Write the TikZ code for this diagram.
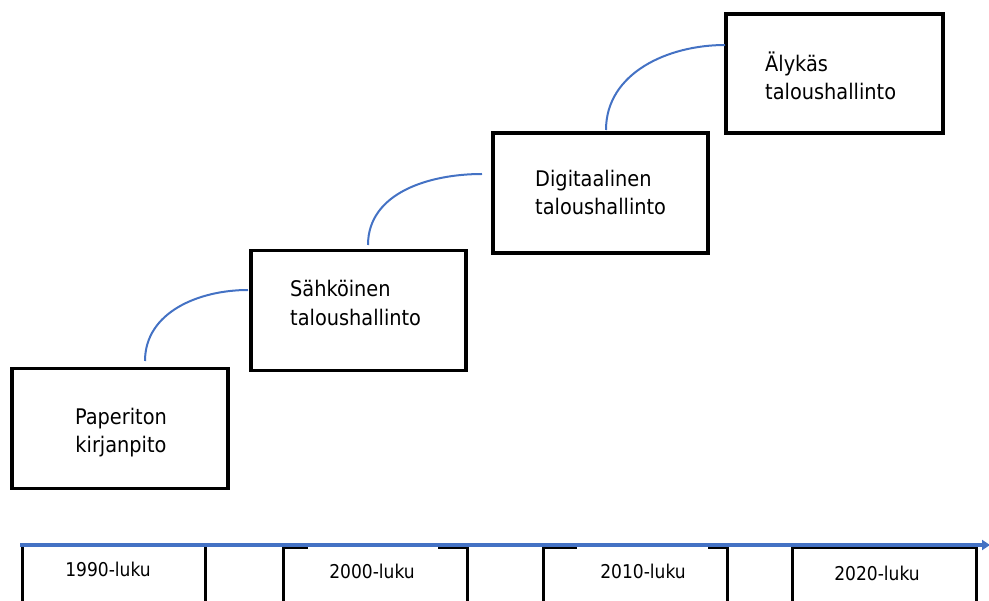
\documentclass[tikz,border=0pt]{standalone}
\usepackage{fontspec}
\setmainfont{DejaVu Sans Condensed}
\usetikzlibrary{arrows.meta}
\definecolor{lineblue}{HTML}{4472C4}
\begin{document}
\begin{tikzpicture}[x=1pt,y=-1pt,
  stagebox/.style={draw=black,line width=3.5pt,fill=white,inner sep=0pt},
  stagetext/.style={anchor=base west,inner sep=0pt,font=\fontsize{21.5}{25}\selectfont},
  stagetextc/.style={anchor=base,inner sep=0pt,font=\fontsize{21.5}{25}\selectfont},
  link/.style={draw=lineblue,line width=2pt},
  era/.style={draw=black,line width=3pt},
  eratext/.style={anchor=base,inner sep=0pt,font=\fontsize{19}{22}\selectfont}]
\useasboundingbox (0,0) rectangle (989,601);

% stage boxes
\node[stagebox,minimum width=216pt,minimum height=120pt] (b1) at (120,428.5) {};
\node[stagebox,minimum width=215pt,minimum height=120pt] (b2) at (358.5,310.5) {};
\node[stagebox,minimum width=215pt,minimum height=120pt] (b3) at (600.5,193) {};
\node[stagebox,minimum width=217pt,minimum height=119pt] (b4) at (834.5,73.5) {};

% stage labels
\node[stagetextc] (t1a) at (121,425) {Paperiton};
\node[stagetextc] (t1b) at (121,453) {kirjanpito};
\node[stagetext] (t2a) at (290,297) {Sähköinen};
\node[stagetext] (t2b) at (290,326) {taloushallinto};
\node[stagetext] (t3a) at (535,187) {Digitaalinen};
\node[stagetext] (t3b) at (535,215) {taloushallinto};
\node[stagetext] (t4a) at (765,72) {Älykäs};
\node[stagetext] (t4b) at (765,100) {taloushallinto};

% curved links between stages
\coordinate (s1) at (145,361);
\coordinate (e1) at (248,290);
\coordinate (s2) at (368,245);
\coordinate (e2) at (482,174);
\coordinate (s3) at (606,130);
\coordinate (e3) at (725,45);
\draw[link] (s1) to[out=90,in=180] (e1);
\draw[link] (s2) to[out=90,in=180] (e2);
\draw[link] (s3) to[out=90,in=180] (e3);

% decade frames below the time axis
\draw[era] (22,603) -- (22,545);
\draw[era] (205,603) -- (205,545);
\draw[era] (283,603) -- (283,548) -- (308,548);
\draw[era] (438,548) -- (467,548) -- (467,603);
\draw[era] (543,603) -- (543,548) -- (577,548);
\draw[era] (708,548) -- (727,548) -- (727,603);
\draw[era] (792,603) -- (792,548) -- (976,548) -- (976,603);

% time axis
\coordinate (ax0) at (20,545);
\coordinate (ax1) at (990,545);
\draw[lineblue,line width=3.5pt,-{Triangle[length=8pt,width=10pt]}] (ax0) -- (ax1);

% decade labels
\node[eratext] (y1) at (108,577) {1990-luku};
\node[eratext] (y2) at (372,579) {2000-luku};
\node[eratext] (y3) at (643,579) {2010-luku};
\node[eratext] (y4) at (877,580) {2020-luku};
\end{tikzpicture}
\end{document}
